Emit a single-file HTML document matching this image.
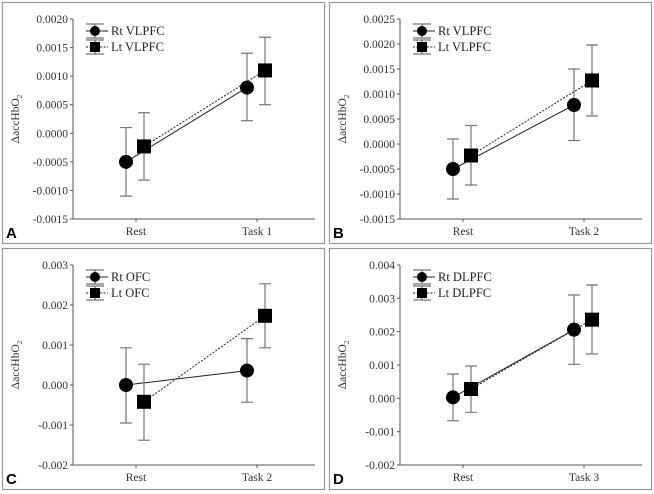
<!DOCTYPE html>
<html><head><meta charset="utf-8"><style>
body{margin:0;background:#fff;}
svg{display:block;font-family:"Liberation Serif",serif;}
</style></head><body>
<svg id="fig" width="654" height="494" xmlns="http://www.w3.org/2000/svg"></svg>
<script>
// Panel data (values in ΔaccHbO2)
const panelLetters = ["A","B","C","D"];
const categoryLabels = [["Rest","Task 1"],["Rest","Task 2"],["Rest","Task 2"],["Rest","Task 3"]];
const legendLabels = [["Rt VLPFC","Lt VLPFC"],["Rt VLPFC","Lt VLPFC"],["Rt OFC","Lt OFC"],["Rt DLPFC","Lt DLPFC"]];
const yTicksA = ["0.0020","0.0015","0.0010","0.0005","0.0000","-0.0005","-0.0010","-0.0015"];
const yTicksB = ["0.0025","0.0020","0.0015","0.0010","0.0005","0.0000","-0.0005","-0.0010","-0.0015"];
const yTicksC = ["0.003","0.002","0.001","0.000","-0.001","-0.002"];
const yTicksD = ["0.004","0.003","0.002","0.001","0.000","-0.001","-0.002"];
const rtMeans = [[-0.0005,0.0008],[-0.0005,0.00078],[0.0,0.00036],[0.00003,0.00206]];
const rtLow   = [[-0.0011,0.00022],[-0.0011,0.00007],[-0.00095,-0.00043],[-0.00067,0.00102]];
const rtHigh  = [[0.0001,0.0014],[0.0001,0.0015],[0.00093,0.00116],[0.00073,0.0031]];
const ltMeans = [[-0.00023,0.0011],[-0.00023,0.00127],[-0.00042,0.00173],[0.00028,0.00236]];
const ltLow   = [[-0.00082,0.0005],[-0.00082,0.00056],[-0.00138,0.00093],[-0.00042,0.00133]];
const ltHigh  = [[0.00036,0.00168],[0.00037,0.00198],[0.00052,0.00253],[0.00097,0.0034]];

const svgNS="http://www.w3.org/2000/svg";
const fig=document.getElementById('fig');
function mk(tag,attrs,parent){const e=document.createElementNS(svgNS,tag);for(const k in attrs)e.setAttribute(k,attrs[k]);(parent||fig).appendChild(e);return e;}
const yTickSets=[yTicksA,yTicksB,yTicksC,yTicksD];
const origins=[[2,2],[329,2],[2,248],[329,248]];

for(let p=0;p<4;p++){
  const [L,T]=origins[p];
  const g=mk('g',{});
  
  
  const frame=mk('rect',{x:L+0.5,y:T+0.5,width:322,height:241,fill:'none',stroke:'#999','stroke-width':1.2},g);
  
  
  const ticks=yTickSets[p];
  const vMax=parseFloat(ticks[0]), vMin=parseFloat(ticks[ticks.length-1]);
  const yTop=T+17, yBot=T+217, axX=L+71;
  const yS=v=>yTop+(vMax-v)/(vMax-vMin)*(yBot-yTop);
  const catX=[L+134,L+255];
  const xS=(i,off)=>catX[i]+off;
  const ax=mk('path',{d:`M${axX} ${yTop} V${yBot} H${L+313}`,stroke:'#555',fill:'none','stroke-width':1},g);
  
  
  ticks.forEach(t=>{
    const y=yS(parseFloat(t));
    mk('line',{x1:axX-3,x2:axX,y1:y,y2:y,stroke:'#555'},g);
    const tx=mk('text',{x:axX-5,y:y+4,'text-anchor':'end','font-size':11.5,fill:'#333'},g);
    tx.textContent=t;
    
    
  });
  categoryLabels[p].forEach((c,i)=>{
    mk('line',{x1:catX[i],x2:catX[i],y1:yBot,y2:yBot+3,stroke:'#555'},g);
    const tx=mk('text',{x:catX[i],y:T+233,'text-anchor':'middle','font-size':11.5,fill:'#333'},g);
    tx.textContent=c;
    
    
  });
  const yt=mk('text',{transform:`translate(${L+17},${(yTop+yBot)/2}) rotate(-90)`,'text-anchor':'middle','font-size':11.5,fill:'#333'},g);
  yt.innerHTML='ΔaccHbO<tspan font-size="7" dy="3">2</tspan>';
  
  
  const lt=mk('text',{x:L+4,y:T+236,'font-size':15,'font-weight':'bold','font-family':'Liberation Sans, sans-serif'},g);
  lt.textContent=panelLetters[p];
  
  
  const series=[
    {m:rtMeans[p],lo:rtLow[p],hi:rtHigh[p],off:-10,dash:null,shape:'circle',name:'rt'},
    {m:ltMeans[p],lo:ltLow[p],hi:ltHigh[p],off:8,dash:'2,1.5',shape:'square',name:'lt'}];
  series.forEach(s=>{
    const ln=mk('line',{x1:xS(0,s.off),y1:yS(s.m[0]),x2:xS(1,s.off),y2:yS(s.m[1]),stroke:'#222','stroke-width':1},g);
    if(s.dash)ln.setAttribute('stroke-dasharray',s.dash);
    
    
    for(let i=0;i<2;i++){
      const x=xS(i,s.off);
      const eb=mk('path',{d:`M${x} ${yS(s.lo[i])} V${yS(s.hi[i])} M${x-6} ${yS(s.lo[i])} H${x+6} M${x-6} ${yS(s.hi[i])} H${x+6}`,stroke:'#777',fill:'none','stroke-width':1.2},g);
      
      
      let mkr;
      if(s.shape==='circle') mkr=mk('circle',{cx:x,cy:yS(s.m[i]),r:7,fill:'#000'},g);
      else mkr=mk('rect',{x:x-7,y:yS(s.m[i])-7,width:14,height:14,fill:'#000'},g);
      
      
    }
  });
  const lg=mk('g',{},g);
  
  
  [[T+29,null,'circle'],[T+45,'2,1.5','square']].forEach((r,k)=>{
    const y=r[0],cx=L+93;
    mk('line',{x1:L+84,x2:L+102,y1:y-7,y2:y-7,stroke:'#555'},lg);
    mk('line',{x1:L+84,x2:L+102,y1:y+7,y2:y+7,stroke:'#555'},lg);
    mk('line',{x1:cx,x2:cx,y1:y-7,y2:y+7,stroke:'#555'},lg);
    const l=mk('line',{x1:L+84,x2:L+106,y1:y,y2:y,stroke:'#222'},lg);
    if(r[1])l.setAttribute('stroke-dasharray',r[1]);
    if(r[2]==='circle')mk('circle',{cx:cx,cy:y,r:5,fill:'#000'},lg);
    else mk('rect',{x:cx-5,y:y-5,width:10,height:10,fill:'#000'},lg);
    const tx=mk('text',{x:L+109,y:y+4,'font-size':12.5,fill:'#222'},lg);
    tx.textContent=legendLabels[p][k];
    
    
  });
}
</script>
</body></html>
